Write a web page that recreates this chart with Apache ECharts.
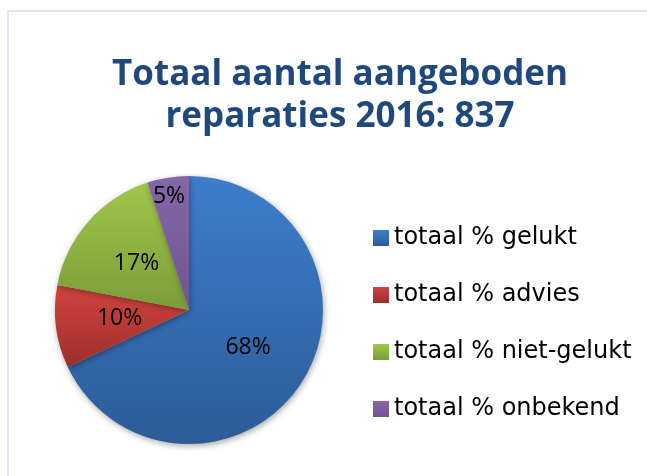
<!DOCTYPE html>
<html>
<head>
<meta charset="utf-8">
<script src="https://cdn.jsdelivr.net/npm/echarts@6/dist/echarts.min.js"></script>
<style>
  html, body { margin: 0; padding: 0; background: #ffffff; }
  #frame { position: absolute; left: 7px; top: 10px; width: 640px; height: 466px;
           border-left: 2px solid #dce6f4; border-top: 2px solid #dce6f4; box-sizing: border-box; }
  #chart { position: absolute; left: 0; top: 0; width: 647px; height: 476px; }
</style>
</head>
<body>
<div id="frame"></div>
<div id="chart"></div>
<script>
var titleText = 'Totaal aantal aangeboden\nreparaties 2016: 837';
var categories = ['totaal % gelukt', 'totaal % advies', 'totaal % niet-gelukt', 'totaal % onbekend'];
var values = [68, 10, 17, 5];
var topColors = ['#3d7ecb', '#d2443f', '#a0c64b', '#8467a6'];
var bottomColors = ['#2c5c98', '#9e2e2b', '#7a9d38', '#6f5494'];

function grad(i) {
  return new echarts.graphic.LinearGradient(0, 0, 0, 1, [
    { offset: 0, color: topColors[i] },
    { offset: 1, color: bottomColors[i] }
  ]);
}

var chart = echarts.init(document.getElementById('chart'), null, { renderer: 'canvas' });
chart.setOption({
  backgroundColor: 'transparent',
  animation: false,
  title: {
    text: titleText,
    left: 335,
    textAlign: 'center',
    top: 49,
    textStyle: {
      fontFamily: 'Open Sans',
      fontWeight: 'bold',
      fontSize: 35,
      lineHeight: 42,
      color: '#1f497d'
    }
  },
  legend: {
    orient: 'vertical',
    left: 368,
    top: 221,
    itemWidth: 16,
    itemHeight: 16,
    itemGap: 33,
    icon: 'rect',
    data: categories,
    textStyle: {
      fontFamily: 'DejaVu Sans',
      fontSize: 24,
      color: '#000000'
    }
  },
  series: [{
    type: 'pie',
    center: [189, 310],
    radius: [0, 134],
    startAngle: 90,
    clockwise: true,
    silent: true,
    data: categories.map(function (c, i) {
      return { name: c, value: values[i], itemStyle: { color: grad(i) } };
    }),
    itemStyle: {
      shadowBlur: 6,
      shadowColor: 'rgba(0,0,0,0.35)',
      shadowOffsetX: 1,
      shadowOffsetY: 2
    },
    label: {
      show: true,
      position: 'inside',
      formatter: '{c}%',
      fontFamily: 'Open Sans',
      fontSize: 23,
      color: '#000000'
    },
    labelLine: { show: false },
    labelLayout: function (p) {
      if (p.dataIndex === 3) { return { dx: -9, dy: -44 }; }
      return {};
    }
  }]
});
</script>
</body>
</html>
